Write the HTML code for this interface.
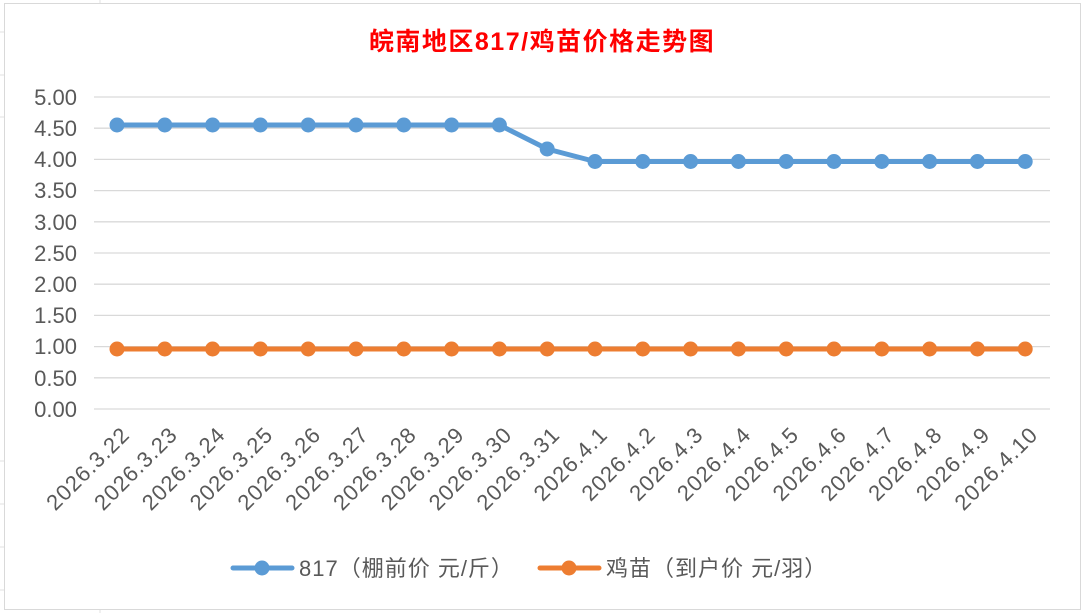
<!DOCTYPE html>
<html><head><meta charset="utf-8"><style>
body{margin:0;background:#fff;}
svg{display:block;font-family:"Liberation Sans","Noto Sans CJK SC",sans-serif;}
</style></head><body>
<svg width="1085" height="613" viewBox="0 0 1085 613">
<rect width="1085" height="613" fill="#fff"/>
<g stroke="#e2e2e2" stroke-width="1">
<line x1="100" y1="0" x2="100" y2="4"/><line x1="100" y1="609" x2="100" y2="613"/>
<line x1="0" y1="32" x2="4" y2="32"/><line x1="0" y1="75" x2="4" y2="75"/><line x1="0" y1="117" x2="4" y2="117"/>
<line x1="0" y1="461" x2="4" y2="461"/><line x1="0" y1="504" x2="4" y2="504"/><line x1="0" y1="547" x2="4" y2="547"/><line x1="0" y1="590" x2="4" y2="590"/>
</g>
<rect x="4.5" y="3.5" width="1076" height="606" fill="#fff" stroke="#d9d9d9" stroke-width="1"/>
<text x="542" y="50" text-anchor="middle" font-size="25" fill="#ff0000" font-weight="bold" letter-spacing="1.5">皖南地区817/鸡苗价格走势图</text>
<g stroke="#d9d9d9" stroke-width="1.3">
<line x1="94" x2="1050" y1="97" y2="97"/><line x1="94" x2="1050" y1="128.2" y2="128.2"/>
<line x1="94" x2="1050" y1="159.4" y2="159.4"/><line x1="94" x2="1050" y1="190.6" y2="190.6"/>
<line x1="94" x2="1050" y1="221.8" y2="221.8"/><line x1="94" x2="1050" y1="253" y2="253"/>
<line x1="94" x2="1050" y1="284.2" y2="284.2"/><line x1="94" x2="1050" y1="315.4" y2="315.4"/>
<line x1="94" x2="1050" y1="346.6" y2="346.6"/><line x1="94" x2="1050" y1="377.8" y2="377.8"/>
<line x1="94" x2="1050" y1="409" y2="409"/>
</g>
<g font-size="22" fill="#595959" text-anchor="end">
<text x="77" y="105">5.00</text><text x="77" y="136">4.50</text><text x="77" y="167">4.00</text>
<text x="77" y="198">3.50</text><text x="77" y="230">3.00</text><text x="77" y="261">2.50</text>
<text x="77" y="292">2.00</text><text x="77" y="323">1.50</text><text x="77" y="354">1.00</text>
<text x="77" y="386">0.50</text><text x="77" y="417">0.00</text>
</g>
<polyline fill="none" stroke="#5b9bd5" stroke-width="5" stroke-linejoin="round" points="117,125 164.8,125 212.6,125 260.4,125 308.2,125 356,125 403.8,125 451.6,125 499.4,125 547.2,149 595,161.5 642.8,161.5 690.6,161.5 738.4,161.5 786.2,161.5 834,161.5 881.8,161.5 929.6,161.5 977.4,161.5 1025.2,161.5"/>
<polyline fill="none" stroke="#ed7d31" stroke-width="5" points="117,349 1025.2,349"/>
<g fill="#5b9bd5">
<circle cx="117" cy="125" r="7.5"/><circle cx="164.8" cy="125" r="7.5"/><circle cx="212.6" cy="125" r="7.5"/><circle cx="260.4" cy="125" r="7.5"/><circle cx="308.2" cy="125" r="7.5"/><circle cx="356" cy="125" r="7.5"/><circle cx="403.8" cy="125" r="7.5"/><circle cx="451.6" cy="125" r="7.5"/><circle cx="499.4" cy="125" r="7.5"/><circle cx="547.2" cy="149" r="7.5"/><circle cx="595" cy="161.5" r="7.5"/><circle cx="642.8" cy="161.5" r="7.5"/><circle cx="690.6" cy="161.5" r="7.5"/><circle cx="738.4" cy="161.5" r="7.5"/><circle cx="786.2" cy="161.5" r="7.5"/><circle cx="834" cy="161.5" r="7.5"/><circle cx="881.8" cy="161.5" r="7.5"/><circle cx="929.6" cy="161.5" r="7.5"/><circle cx="977.4" cy="161.5" r="7.5"/><circle cx="1025.2" cy="161.5" r="7.5"/>
</g>
<g fill="#ed7d31">
<circle cx="117" cy="349" r="7.5"/><circle cx="164.8" cy="349" r="7.5"/><circle cx="212.6" cy="349" r="7.5"/><circle cx="260.4" cy="349" r="7.5"/><circle cx="308.2" cy="349" r="7.5"/><circle cx="356" cy="349" r="7.5"/><circle cx="403.8" cy="349" r="7.5"/><circle cx="451.6" cy="349" r="7.5"/><circle cx="499.4" cy="349" r="7.5"/><circle cx="547.2" cy="349" r="7.5"/><circle cx="595" cy="349" r="7.5"/><circle cx="642.8" cy="349" r="7.5"/><circle cx="690.6" cy="349" r="7.5"/><circle cx="738.4" cy="349" r="7.5"/><circle cx="786.2" cy="349" r="7.5"/><circle cx="834" cy="349" r="7.5"/><circle cx="881.8" cy="349" r="7.5"/><circle cx="929.6" cy="349" r="7.5"/><circle cx="977.4" cy="349" r="7.5"/><circle cx="1025.2" cy="349" r="7.5"/>
</g>
<g font-size="22" fill="#595959" text-anchor="end" letter-spacing="1">
<text transform="translate(131,436) rotate(-45)">2026.3.22</text>
<text transform="translate(178.8,436) rotate(-45)">2026.3.23</text>
<text transform="translate(226.6,436) rotate(-45)">2026.3.24</text>
<text transform="translate(274.4,436) rotate(-45)">2026.3.25</text>
<text transform="translate(322.2,436) rotate(-45)">2026.3.26</text>
<text transform="translate(370,436) rotate(-45)">2026.3.27</text>
<text transform="translate(417.8,436) rotate(-45)">2026.3.28</text>
<text transform="translate(465.6,436) rotate(-45)">2026.3.29</text>
<text transform="translate(513.4,436) rotate(-45)">2026.3.30</text>
<text transform="translate(561.2,436) rotate(-45)">2026.3.31</text>
<text transform="translate(609,436) rotate(-45)">2026.4.1</text>
<text transform="translate(656.8,436) rotate(-45)">2026.4.2</text>
<text transform="translate(704.6,436) rotate(-45)">2026.4.3</text>
<text transform="translate(752.4,436) rotate(-45)">2026.4.4</text>
<text transform="translate(800.2,436) rotate(-45)">2026.4.5</text>
<text transform="translate(848,436) rotate(-45)">2026.4.6</text>
<text transform="translate(895.8,436) rotate(-45)">2026.4.7</text>
<text transform="translate(943.6,436) rotate(-45)">2026.4.8</text>
<text transform="translate(991.4,436) rotate(-45)">2026.4.9</text>
<text transform="translate(1039.2,436) rotate(-45)">2026.4.10</text>
</g>
<line x1="233" x2="292" y1="568" y2="568" stroke="#5b9bd5" stroke-width="5" stroke-linecap="round"/>
<circle cx="262" cy="568" r="7.5" fill="#5b9bd5"/>
<text x="299" y="576" font-size="22" fill="#595959" letter-spacing="1">817（棚前价 元/斤）</text>
<line x1="540" x2="599" y1="568" y2="568" stroke="#ed7d31" stroke-width="5" stroke-linecap="round"/>
<circle cx="569" cy="568" r="7.5" fill="#ed7d31"/>
<text x="606" y="576" font-size="22" fill="#595959" letter-spacing="1">鸡苗（到户价 元/羽）</text>
</svg>
</body></html>
